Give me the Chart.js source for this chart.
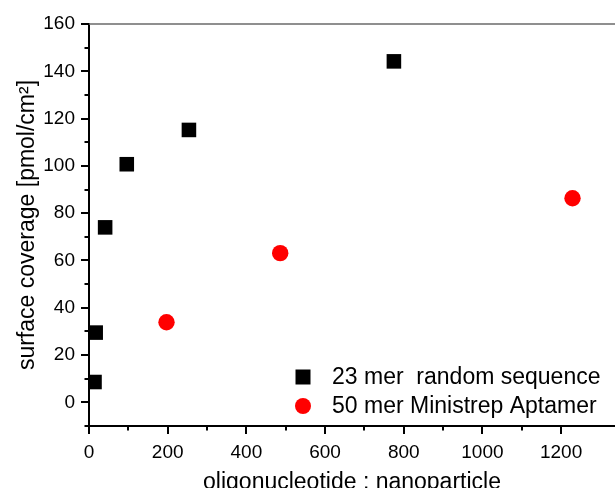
<!DOCTYPE html>
<html>
<head>
<meta charset="utf-8">
<script src="https://cdn.jsdelivr.net/npm/chart.js@4/dist/chart.umd.min.js"></script>
<style>
  html, body { margin: 0; padding: 0; background: #fff; }
  #wrap { width: 615px; height: 488px; overflow: hidden; }
</style>
</head>
<body>
<div id="wrap"><canvas id="c" width="615" height="488"></canvas></div>
<script>
// Surface coverage vs. oligonucleotide : nanoparticle ratio
const seriesNames = ['23 mer  random sequence', '50 mer Ministrep Aptamer'];

const randomRatio    = [14, 17, 41, 96, 254, 775];
const randomCoverage = [8.6, 29.5, 74, 100.7, 115.2, 144.2];

const aptamerRatio    = [197, 486, 1229];
const aptamerCoverage = [33.9, 63.1, 86.3];

const xRange = [0, 1337];
const yRange = [-10, 160];
const xMinorStep = 100, xMajorStep = 200;
const yMinorStep = 10,  yMajorStep = 20;

const xTitle = 'oligonucleotide : nanoparticle';
const yTitle = 'surface coverage [pmol/cm\u00B2]';

const FONT = "'Liberation Sans', Arial, sans-serif";

function toPoints(xs, ys) { return xs.map((x, i) => ({ x: x, y: ys[i] })); }

// Outward major/minor tick marks, top frame line and in-plot legend
const decorations = {
  id: 'decorations',
  afterDraw(chart) {
    const ctx = chart.ctx;
    const area = chart.chartArea;
    const xs = chart.scales.x, ys = chart.scales.y;
    ctx.save();
    ctx.strokeStyle = '#000';
    ctx.lineWidth = 2;
    ctx.lineCap = 'butt';
    // x ticks
    xs.ticks.forEach(t => {
      if (t.value % xMinorStep !== 0) return;
      const len = t.value % xMajorStep === 0 ? 8 : 4.5;
      const px = Math.round(xs.getPixelForValue(t.value));
      ctx.beginPath();
      ctx.moveTo(px, area.bottom);
      ctx.lineTo(px, area.bottom + len);
      ctx.stroke();
    });
    // y ticks
    ys.ticks.forEach(t => {
      if (t.value % yMinorStep !== 0) return;
      const len = t.value % yMajorStep === 0 ? 8 : 4.5;
      const py = Math.round(ys.getPixelForValue(t.value));
      ctx.beginPath();
      ctx.moveTo(area.left, py);
      ctx.lineTo(area.left - len, py);
      ctx.stroke();
    });
    // top frame line
    ctx.strokeStyle = '#6a6a6a';
    ctx.lineWidth = 1.5;
    ctx.beginPath();
    ctx.moveTo(area.left, area.top);
    ctx.lineTo(area.right, area.top);
    ctx.stroke();

    // legend
    const mx = area.left + 214;
    const tx = area.left + 243;
    const rows = [area.bottom - 49, area.bottom - 20];
    ctx.font = '23px ' + FONT;
    ctx.textBaseline = 'middle';
    ctx.textAlign = 'left';
    chart.data.datasets.forEach((ds, i) => {
      const cy = rows[i];
      ctx.fillStyle = ds.backgroundColor;
      ctx.beginPath();
      if (ds.pointStyle === 'rect') {
        ctx.rect(mx - 7.5, cy - 7.5, 15, 15);
      } else {
        ctx.arc(mx, cy, 8, 0, Math.PI * 2);
      }
      ctx.fill();
      ctx.fillStyle = '#000';
      ctx.fillText(ds.label, tx, cy + 1);
    });
    ctx.restore();
  }
};

new Chart(document.getElementById('c'), {
  type: 'scatter',
  data: {
    datasets: [
      {
        label: seriesNames[0],
        data: toPoints(randomRatio, randomCoverage),
        pointStyle: 'rect',
        pointRadius: 10.3,
        pointHoverRadius: 10.3,
        backgroundColor: '#000000',
        borderWidth: 0
      },
      {
        label: seriesNames[1],
        data: toPoints(aptamerRatio, aptamerCoverage),
        pointStyle: 'circle',
        pointRadius: 8.2,
        pointHoverRadius: 8.2,
        backgroundColor: '#ff0000',
        borderWidth: 0
      }
    ]
  },
  options: {
    responsive: false,
    animation: false,
    events: [],
    layout: { autoPadding: false, padding: { top: 24, right: 0, left: 0, bottom: 0 } },
    plugins: {
      legend: { display: false },
      tooltip: { enabled: false }
    },
    scales: {
      x: {
        type: 'linear',
        min: xRange[0],
        max: xRange[1],
        afterFit(s) { s.height = 62; s.paddingLeft = 0; s.paddingRight = 0; },
        grid: { display: false, drawTicks: false },
        border: { display: true, color: '#000', width: 2 },
        ticks: {
          stepSize: xMinorStep,
          padding: 15,
          color: '#000',
          font: { family: FONT, size: 19 },
          maxRotation: 0,
          autoSkip: false,
          callback: v => (v % xMajorStep === 0 ? String(v) : '')
        },
        title: {
          display: true,
          text: xTitle,
          color: '#000',
          font: { family: FONT, size: 23 },
          padding: { top: 0, bottom: -8 }
        }
      },
      y: {
        type: 'linear',
        min: yRange[0],
        max: yRange[1],
        afterFit(s) { s.width = 89; s.paddingTop = 0; s.paddingBottom = 0; },
        grid: { display: false, drawTicks: false },
        border: { display: true, color: '#000', width: 2 },
        ticks: {
          stepSize: yMinorStep,
          padding: 14,
          color: '#000',
          font: { family: FONT, size: 19 },
          autoSkip: false,
          callback: v => (v % yMajorStep === 0 ? String(v) : '')
        },
        title: {
          display: true,
          text: yTitle,
          color: '#000',
          font: { family: FONT, size: 23 },
          padding: { top: 14, bottom: 0 }
        }
      }
    }
  },
  plugins: [decorations]
});
</script>
</body>
</html>
